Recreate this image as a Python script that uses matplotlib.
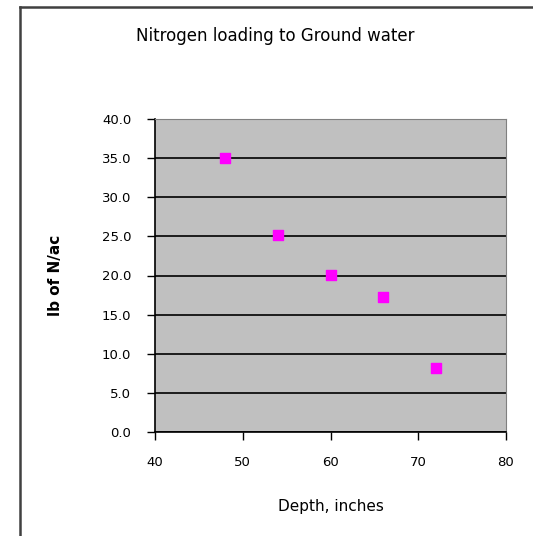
import matplotlib
matplotlib.use('Agg')
from matplotlib import pyplot as plt
from matplotlib.lines import Line2D

# data
depth = [48, 54, 60, 66, 72]
n_load = [35.0, 25.2, 20.1, 17.3, 8.2]
x_ticks = [40, 50, 60, 70, 80]
y_ticks = [0, 5, 10, 15, 20, 25, 30, 35, 40]

fig = plt.figure(figsize=(5.33, 5.36), dpi=100)
ax = fig.add_axes([155 / 533, 1 - 432 / 536, 351 / 533, 313 / 536])

ax.set_facecolor('#c0c0c0')
ax.scatter(depth, n_load, marker='s', s=55, color='#ff00ff', zorder=3)

ax.set_xlim(40, 80)
ax.set_ylim(0, 40)
ax.set_xticks(x_ticks)
ax.set_yticks(y_ticks)
ax.set_yticklabels([f'{v:.1f}' for v in y_ticks])
ax.tick_params(direction='out', length=6, width=1, labelsize=9.5, pad=11)
ax.yaxis.grid(True, color='black', linewidth=1.2)
ax.set_axisbelow(True)

for side in ('top', 'right'):
    ax.spines[side].set_color('#808080')
for side in ('left', 'bottom'):
    ax.spines[side].set_color('black')
    ax.spines[side].set_linewidth(1.2)

ax.set_xlabel('Depth, inches', fontsize=11, labelpad=22)
ax.set_ylabel('lb of N/ac', fontsize=11, fontweight='bold', labelpad=28)
fig.text(275 / 533, 1 - 36 / 536, 'Nitrogen loading to Ground water',
         ha='center', va='center', fontsize=12)

# outer chart frame (left and top edges only)
fig.add_artist(Line2D([20 / 533, 20 / 533], [0, 1 - 7 / 536],
                      transform=fig.transFigure, color='#404040', linewidth=1.8))
fig.add_artist(Line2D([20 / 533, 1], [1 - 7 / 536, 1 - 7 / 536],
                      transform=fig.transFigure, color='#404040', linewidth=1.8))

fig.savefig('out.png', dpi=100)
plt.close(fig)
